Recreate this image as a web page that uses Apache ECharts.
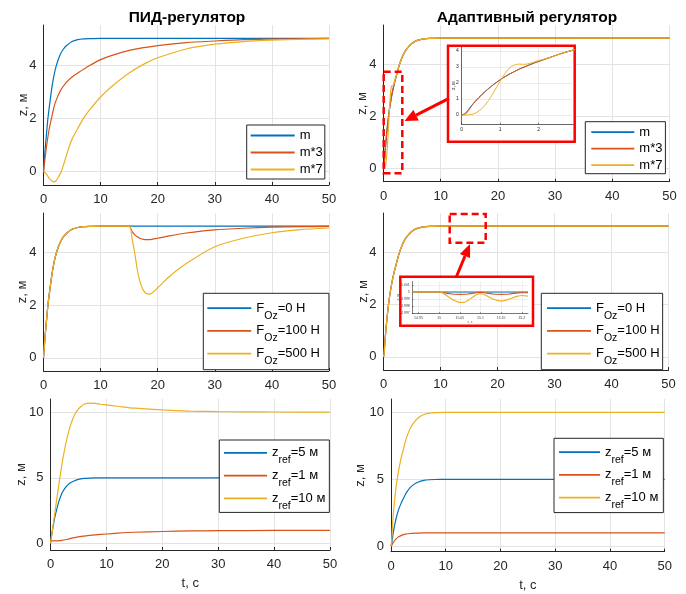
<!DOCTYPE html>
<html><head><meta charset="utf-8">
<script src="https://cdn.jsdelivr.net/npm/echarts@6/dist/echarts.min.js"></script>
<style>html,body{margin:0;padding:0;background:#fff}#c{width:686px;height:594px}</style>
</head><body><div id="c"></div>
<script>
// ---------- data ----------
// PID regulator, row 1 (mass variants) / base response
const pidT  = [0,0.25,0.5,0.75,1,1.5,2,2.5,3,3.5,4,5,6,7,8,10,15,20,30,40,50];
const pidM  = [0,0.75,1.35,1.95,2.4,3.2,3.78,4.15,4.42,4.6,4.72,4.88,4.95,4.98,4.99,5,5,5,5,5,5];
const pidM3T = [0,0.5,1,1.5,2,3,4,5,6,8,10,12,15,20,25,30,35,40,50];
const pidM3  = [0,0.9,1.6,2.1,2.55,3.05,3.35,3.55,3.7,3.97,4.2,4.36,4.55,4.73,4.84,4.9,4.95,4.97,5.0];
const pidM7T = [0,0.5,1,1.5,1.8,2.2,2.6,3.1,3.5,4,4.6,5,6,7,8,10,12,15,18,20,25,30,35,40,45,50];
const pidM7  = [0,-0.08,-0.25,-0.35,-0.38,-0.34,-0.2,0,0.25,0.6,1.0,1.22,1.62,2.0,2.3,2.8,3.2,3.7,4.08,4.27,4.6,4.78,4.88,4.93,4.96,4.98];
// PID row 2: disturbance applied at t = 15 s
const f100T = [15,15.5,16,16.5,17,17.5,18,19,20,22,25,30,35,40,45,50];
const f100Z = [5.0,4.8,4.67,4.59,4.53,4.5,4.49,4.5,4.54,4.63,4.74,4.86,4.92,4.96,4.98,4.99];
const f500T = [15,15.5,16,16.5,17,17.5,18,18.5,19,20,22,25,30,35,40,45,50];
const f500Z = [5.0,4.55,3.95,3.25,2.82,2.56,2.44,2.42,2.46,2.66,3.08,3.58,4.22,4.54,4.75,4.87,4.93];
// PID row 3: reference values
const zr1T  = [0,1,2,3,4,5,6,8,10,12,15,20,25,30,40,50];
const zr1   = [0.2,0.2,0.24,0.32,0.42,0.5,0.56,0.65,0.72,0.78,0.85,0.91,0.95,0.97,0.99,1.0];
const zr10T = [0,0.5,1,1.5,2,2.5,3,3.5,4,4.5,5,5.5,6,7,8,9,10,12,15,20,25,30,35,40,50];
const zr10  = [0,1.5,3.0,4.5,5.9,7.1,8.1,8.9,9.5,9.95,10.25,10.45,10.6,10.68,10.66,10.6,10.55,10.45,10.3,10.17,10.08,10.04,10.02,10.01,10.0];
// Adaptive regulator
const adT   = [0,0.1,0.2,0.3,0.4,0.6,0.8,1.0,1.2,1.5,1.8,2.0,2.3,2.6,3.0,3.5,4,5,6,7,8,10,50];
const adM   = [0,0.12,0.42,0.72,0.98,1.45,1.85,2.2,2.5,2.87,3.17,3.35,3.6,3.85,4.12,4.38,4.57,4.8,4.92,4.97,4.99,5,5];
const adM3  = [0,0.06,0.36,0.7,0.97,1.44,1.85,2.2,2.5,2.87,3.17,3.35,3.6,3.85,4.12,4.38,4.57,4.8,4.92,4.97,4.99,5,5];
const adM7T = [0,0.1,0.2,0.3,0.4,0.5,0.6,0.7,0.8,0.9,1.0,1.1,1.2,1.3,1.4,1.5,1.6,1.7,1.8,2.0,2.3,2.6,3.0,3.5,4,5,6,7,8,10,50];
const adM7  = [0,0,0.02,0.06,0.18,0.35,0.6,0.92,1.3,1.7,2.12,2.5,2.82,3.05,3.15,3.18,3.17,3.18,3.25,3.4,3.6,3.85,4.12,4.38,4.57,4.8,4.92,4.97,4.99,5,5];
const adZ1  = [0,0.05,0.13,0.21,0.28,0.4,0.5,0.58,0.65,0.73,0.8,0.84,0.88,0.91,0.94,0.96,0.97,0.99,1,1,1,1,1];
const adZ10 = [0,0.35,1.05,1.75,2.3,3.2,4.0,4.65,5.2,5.9,6.5,6.85,7.3,7.8,8.3,8.8,9.15,9.6,9.84,9.94,9.98,10,10];
// Inset of the adaptive disturbance response (t around 15 s)
const in2BT = [14.935,15.215];
const in2B  = [5,5];
const in2T  = [14.935,15,15.01,15.02,15.03,15.04,15.05,15.06,15.07,15.08,15.09,15.1,15.11,15.12,15.13,15.14,15.15,15.16,15.17,15.18,15.19,15.2,15.215];
const in2O  = [5,5,4.9999,4.9998,4.99972,4.99968,4.99966,4.99968,4.99972,4.9998,4.9999,4.99995,4.9999,4.9998,4.99972,4.99968,4.99966,4.99968,4.99972,4.9998,4.99985,4.9999,4.99988];
const in2Y  = [5,5,4.9998,4.9994,4.999,4.9987,4.9985,4.9985,4.9988,4.9992,4.9996,4.99975,4.9996,4.9993,4.999,4.9988,4.9987,4.9988,4.999,4.9992,4.9994,4.9995,4.9994];
// Legend labels
const legRow1 = ['m','m*3','m*7'];
const legRow2 = ['F0','F100','F500'];
const legRow3 = ['z5','z1','z10'];
const legText = {F0:'{a|F}{s|Oz}{a|=0 Н}', F100:'{a|F}{s|Oz}{a|=100 Н}', F500:'{a|F}{s|Oz}{a|=500 Н}',
                 z5:'{a|z}{s|ref}{a|=5 м}', z1:'{a|z}{s|ref}{a|=1 м}', z10:'{a|z}{s|ref}{a|=10 м}'};
const titles = ['ПИД-регулятор','Адаптивный регулятор'];

// ---------- helpers ----------
const FONT = 'Liberation Sans, Arial, Helvetica, sans-serif';
const COL = ['#0072BD','#D95319','#EDB120'];
const AX = '#262626', GRIDC = '#e3e3e3';
const LINE_ICON = 'path://M0,0H24V1H0Z';
const pts = (t, v) => t.map((x, i) => [x, v[i]]);
const before15 = (t, v) => pts(t, v).filter(p => p[0] < 15);

const grids = [
  {left:43.5, top:25, width:285.5, height:160},
  {left:383.5, top:25, width:286, height:156.7},
  {left:43.5, top:213, width:285.5, height:158},
  {left:383.5, top:213, width:285, height:157},
  {left:50.5, top:399, width:279.5, height:151},
  {left:391, top:399, width:273.7, height:152.7},
  {left:461.7, top:47, width:111.5, height:77.3},
  {left:412.3, top:281.5, width:115.7, height:31.8}
];

function mainX(gi, named) {
  return {type:'value', gridIndex:gi, min:0, max:50, interval:10,
    name: named ? 't, с' : '', nameLocation:'middle', nameGap:27, nameMoveOverlap:false,
    nameTextStyle:{fontFamily:FONT, fontSize:13, color:AX},
    axisLine:{show:true, onZero:false, lineStyle:{color:AX, width:1}},
    axisTick:{show:true, inside:true, length:3, lineStyle:{color:AX}},
    axisLabel:{color:AX, fontSize:13, fontFamily:FONT, margin:8},
    splitLine:{show:true, showMinLine:false, lineStyle:{color:GRIDC, width:1}}};
}
function mainY(gi, min, max, split, gap) {
  return {type:'value', gridIndex:gi, min:min, max:max, splitNumber:split,
    name:'z, м', nameLocation:'middle', nameGap:gap, nameMoveOverlap:false,
    nameTextStyle:{fontFamily:FONT, fontSize:13, color:AX},
    axisLine:{show:true, onZero:false, lineStyle:{color:AX, width:1}},
    axisTick:{show:false},
    axisLabel:{color:AX, fontSize:13, fontFamily:FONT, margin:7, showMinLabel:false, showMaxLabel:false},
    splitLine:{show:true, showMinLine:false, showMaxLine:false, lineStyle:{color:GRIDC, width:1}}};
}
function ln(name, gi, data, ci, extra) {
  return Object.assign({type:'line', name:name, xAxisIndex:gi, yAxisIndex:gi, data:data,
    showSymbol:false, symbol:'none', smooth:0.25, clip:true, animation:false,
    lineStyle:{color:COL[ci], width:1.2}, itemStyle:{color:COL[ci]}}, extra || {});
}
function legend(data, left, top, pad, gap, itemW, itemH) {
  return {data:data, icon:LINE_ICON, orient:'vertical', left:left, top:top, padding:pad, itemGap:gap,
    itemWidth:itemW, itemHeight:itemH, selectedMode:false,
    borderColor:AX, borderWidth:1, backgroundColor:'#fff', borderRadius:0,
    formatter: n => legText[n] || n,
    textStyle:{fontFamily:FONT, fontSize:13, color:'#000',
      rich:{a:{fontFamily:FONT, fontSize:13, color:'#000', lineHeight:14, verticalAlign:'middle'},
            s:{fontFamily:FONT, fontSize:10.5, color:'#000', lineHeight:10, padding:[15,0,0,0], verticalAlign:'middle'}}}};
}

const xAxes = [mainX(0), mainX(1), mainX(2), mainX(3), mainX(4,true), mainX(5,true),
  {type:'value', gridIndex:6, min:0, max:2.9, interval:1, z:6,
   axisLine:{show:true, onZero:false, lineStyle:{color:AX, width:0.7}},
   axisTick:{show:true, inside:true, length:1.5, lineStyle:{color:AX, width:0.6}},
   axisLabel:{color:AX, fontSize:5, fontFamily:FONT, margin:3, showMaxLabel:false},
   splitLine:{show:true, showMinLine:false, showMaxLine:false, lineStyle:{color:GRIDC, width:0.7}}},
  {type:'value', gridIndex:7, min:14.935, max:15.215, splitNumber:6, z:6,
   name:'t, с', nameLocation:'middle', nameGap:7, nameMoveOverlap:false, nameTextStyle:{fontFamily:FONT, fontSize:4, color:'#555'},
   axisLine:{show:true, onZero:false, lineStyle:{color:AX, width:0.6}},
   axisTick:{show:true, inside:true, length:1.2, lineStyle:{color:AX, width:0.5}},
   axisLabel:{color:'#444', fontSize:3.5, fontFamily:FONT, margin:2.5, showMinLabel:false, showMaxLabel:false},
   splitLine:{show:true, showMinLine:false, showMaxLine:false, lineStyle:{color:GRIDC, width:0.6}}}
];
const yAxes = [mainY(0,-0.5,5.5,3,14), mainY(1,-0.5,5.5,3,15), mainY(2,-0.5,5.5,3,15), mainY(3,-0.5,5.5,3,14),
  mainY(4,-0.5,11,2,23), mainY(5,-0.4,11,2,24),
  {type:'value', gridIndex:6, min:-0.58, max:4.25, splitNumber:5, z:6,
   name:'z, м', nameLocation:'middle', nameGap:6, nameMoveOverlap:false, nameTextStyle:{fontFamily:FONT, fontSize:5, color:AX},
   axisLine:{show:true, onZero:false, lineStyle:{color:AX, width:0.7}},
   axisTick:{show:false},
   axisLabel:{color:AX, fontSize:5, fontFamily:FONT, margin:3, showMinLabel:false, showMaxLabel:false},
   splitLine:{show:true, showMinLine:false, showMaxLine:false, lineStyle:{color:GRIDC, width:0.7}}},
  {type:'value', gridIndex:7, min:4.99695, max:5.0015, splitNumber:4, z:6,
   name:'z, м', nameLocation:'middle', nameGap:12, nameMoveOverlap:false, nameTextStyle:{fontFamily:FONT, fontSize:3.5, color:'#555'},
   axisLine:{show:true, onZero:false, lineStyle:{color:AX, width:0.6}},
   axisTick:{show:true, inside:true, length:1.2, lineStyle:{color:AX, width:0.5}},
   axisLabel:{color:'#444', fontSize:3.5, fontFamily:FONT, margin:2.5, showMinLabel:false, showMaxLabel:false},
   splitLine:{show:true, showMinLine:false, showMaxLine:false, lineStyle:{color:GRIDC, width:0.6}}}
];

const series = [
  // row 1 PID
  ln('m',0,pts(pidT,pidM),0), ln('m*3',0,pts(pidM3T,pidM3),1), ln('m*7',0,pts(pidM7T,pidM7),2),
  // row 1 adaptive
  ln('m',1,pts(adT,adM),0), ln('m*3',1,pts(adT,adM3),1), ln('m*7',1,pts(adM7T,adM7),2),
  // row 2 PID
  ln('F0',2,pts(pidT,pidM),0),
  ln('F100',2,before15(pidT,pidM).concat(pts(f100T,f100Z)),1),
  ln('F500',2,before15(pidT,pidM).concat(pts(f500T,f500Z)),2),
  // row 2 adaptive
  ln('F0',3,pts(adT,adM),0), ln('F100',3,pts(adT,adM),1), ln('F500',3,pts(adT,adM),2),
  // row 3 PID
  ln('z5',4,pts(pidT,pidM),0), ln('z1',4,pts(zr1T,zr1),1), ln('z10',4,pts(zr10T,zr10),2),
  // row 3 adaptive
  ln('z5',5,pts(adT,adM),0), ln('z1',5,pts(adT,adZ1),1), ln('z10',5,pts(adT,adZ10),2),
  // inset 1
  ln('m',6,pts(adT,adM),0,{z:7, lineStyle:{color:COL[0], width:1}}),
  ln('m*3',6,pts(adT,adM3),1,{z:7, lineStyle:{color:COL[1], width:1}}),
  ln('m*7',6,pts(adM7T,adM7),2,{z:7, lineStyle:{color:COL[2], width:1}}),
  // inset 2
  ln('F0',7,pts(in2BT,in2B),0,{z:7, smooth:false, lineStyle:{color:COL[0], width:1.1}}),
  ln('F100',7,pts(in2T,in2O),1,{z:7, lineStyle:{color:COL[1], width:1.1}}),
  ln('F500',7,pts(in2T,in2Y),2,{z:7, lineStyle:{color:COL[2], width:1.2}})
];

const RED = '#ff0000';
const option = {
  animation:false,
  backgroundColor:'#fff',
  title:[
    {text:titles[0], left:182, top:5, textAlign:'center', textStyle:{fontFamily:FONT, fontSize:15.5, fontWeight:'bold', color:'#000'}},
    {text:titles[1], left:522, top:5, textAlign:'center', textStyle:{fontFamily:FONT, fontSize:15.5, fontWeight:'bold', color:'#000'}}
  ],
  grid: grids,
  xAxis: xAxes,
  yAxis: yAxes,
  legend:[
    legend(legRow1, 246.7, 125, [4,2,3,4], 4, 44, 14),
    legend(legRow1, 585.3, 121.7, [4,3,2,6], 3.5, 43, 14),
    legend(legRow2, 203.3, 293.3, [1.9,9,3.1,4], -3.3, 44, 14),
    legend(legRow2, 541.3, 293.3, [1.9,3,3.1,5.7], -3.3, 44, 14),
    legend(legRow3, 219.3, 440, [-0.2,4,1,4.7], -3.2, 43, 14),
    legend(legRow3, 554, 438.3, [0.9,5,2,5], -3.3, 41, 14)
  ],
  graphic:[
    {type:'rect', z:5, shape:{x:448, y:45.7, width:126.7, height:96}, style:{fill:'#fff', stroke:RED, lineWidth:2.5}},
    {type:'rect', z:5, shape:{x:400.3, y:276.7, width:132.7, height:49}, style:{fill:'#fff', stroke:RED, lineWidth:2.5}},
    {type:'rect', z:8, shape:{x:383.7, y:71.7, width:18.6, height:101.6}, style:{fill:null, stroke:RED, lineWidth:2.5, lineDash:[7,4]}},
    {type:'rect', z:8, shape:{x:449.7, y:214, width:36, height:28.7}, style:{fill:null, stroke:RED, lineWidth:2.5, lineDash:[7,4]}},
    {type:'line', z:8, shape:{x1:449, y1:98.3, x2:416.1, y2:115.1}, style:{stroke:RED, lineWidth:3}},
    {type:'polygon', z:8, shape:{points:[[404.5,121],[418.8,120.4],[413.4,109.8]]}, style:{fill:RED}},
    {type:'line', z:8, shape:{x1:456.3, y1:277, x2:465, y2:256}, style:{stroke:RED, lineWidth:3}},
    {type:'polygon', z:8, shape:{points:[[470,244],[470.1,258.1],[459.9,253.9]]}, style:{fill:RED}}
  ],
  series: series
};
const chart = echarts.init(document.getElementById('c'), null, {renderer:'canvas'});
chart.setOption(option);
</script>
</body></html>
